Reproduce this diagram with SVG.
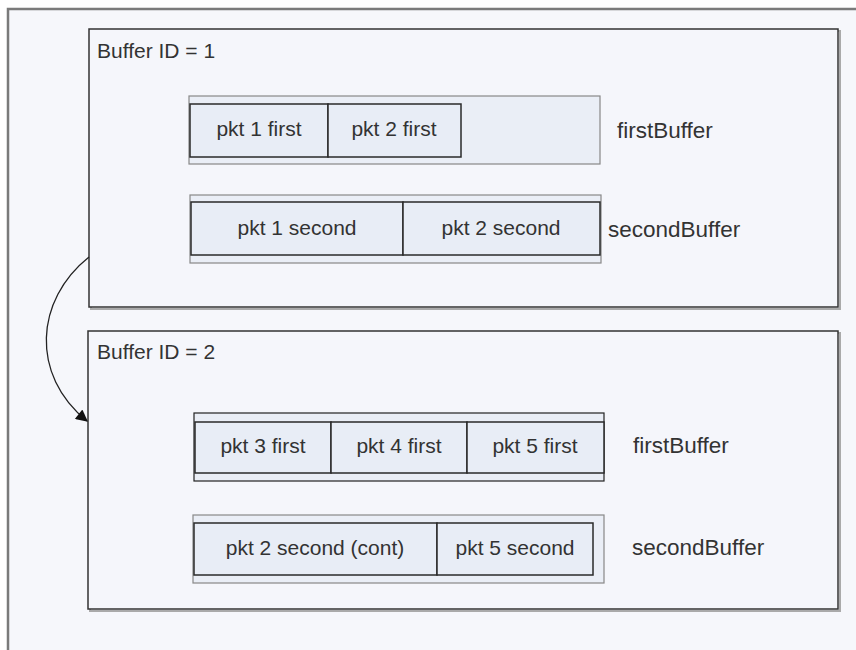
<svg xmlns="http://www.w3.org/2000/svg" width="856" height="650" viewBox="0 0 856 650">
  <defs>
    <marker id="arrow" viewBox="0 0 10 10" refX="9" refY="5" markerWidth="15" markerHeight="12" orient="auto" markerUnits="userSpaceOnUse">
      <path d="M0,0 L10,5 L0,10 z" fill="#111"/>
    </marker>
    <style>
      .frame { fill: #f6f7fb; stroke: #7a7a7a; stroke-width: 2.5; }
      .buf { fill: #f5f6fb; stroke: #333; stroke-width: 1.5; }
      .shadow { fill: none; stroke: #aaa; stroke-width: 2; }
      .track { fill: #eaeef6; stroke: #888; stroke-width: 1.2; }
      .trackDark { fill: #eaeef6; stroke: #222; stroke-width: 1.2; }
      .pkt { fill: #e8edf6; stroke: #2a2a2a; stroke-width: 1.5; }
      .lbl { font-family: "Liberation Sans", Arial, sans-serif; font-size: 21px; fill: #333; }
      .side { font-size: 22.5px; }
      .ctr { text-anchor: middle; }
      .conn { fill: none; stroke: #222; stroke-width: 1.3; }
    </style>
  </defs>

  <rect width="856" height="650" fill="#ffffff"/>
  <rect class="frame" x="8" y="9" width="860" height="660"/>

  <!-- Buffer 1 -->
  <g id="buffer1">
    <rect class="shadow" x="91" y="31" width="749" height="278"/>
    <rect class="buf" x="89" y="29" width="749" height="278"/>
    <text class="lbl" x="97" y="58">Buffer ID = 1</text>
  </g>
  <g id="buffer1-first">
    <rect class="track" x="189" y="96" width="411" height="68"/>
    <rect class="pkt" x="190" y="104" width="138" height="53"/>
    <rect class="pkt" x="328" y="104" width="133" height="53"/>
    <text class="lbl ctr" x="259" y="136">pkt 1 first</text>
    <text class="lbl ctr" x="394" y="136">pkt 2 first</text>
    <text class="lbl side" x="617" y="138">firstBuffer</text>
  </g>
  <g id="buffer1-second">
    <rect class="track" x="190" y="195" width="411" height="68"/>
    <rect class="pkt" x="191" y="202" width="212" height="53"/>
    <rect class="pkt" x="403" y="202" width="197" height="53"/>
    <text class="lbl ctr" x="297" y="235">pkt 1 second</text>
    <text class="lbl ctr" x="501" y="235">pkt 2 second</text>
    <text class="lbl side" x="608" y="237">secondBuffer</text>
  </g>

  <!-- Buffer 2 -->
  <g id="buffer2">
    <rect class="shadow" x="90" y="333" width="750" height="278"/>
    <rect class="buf" x="88" y="331" width="750" height="278"/>
    <text class="lbl" x="97" y="359">Buffer ID = 2</text>
  </g>
  <g id="buffer2-first">
    <rect class="trackDark" x="194" y="413" width="410" height="68"/>
    <rect class="pkt" x="195" y="422" width="136" height="51"/>
    <rect class="pkt" x="331" y="422" width="136" height="51"/>
    <rect class="pkt" x="467" y="422" width="137" height="51"/>
    <text class="lbl ctr" x="263" y="453">pkt 3 first</text>
    <text class="lbl ctr" x="399" y="453">pkt 4 first</text>
    <text class="lbl ctr" x="535" y="453">pkt 5 first</text>
    <text class="lbl side" x="633" y="453">firstBuffer</text>
  </g>
  <g id="buffer2-second">
    <rect class="track" x="193" y="515" width="411" height="68"/>
    <rect class="pkt" x="194" y="523" width="243" height="52"/>
    <rect class="pkt" x="437" y="523" width="156" height="52"/>
    <text class="lbl ctr" x="315" y="555">pkt 2 second (cont)</text>
    <text class="lbl ctr" x="515" y="555">pkt 5 second</text>
    <text class="lbl side" x="632" y="555">secondBuffer</text>
  </g>

  <!-- Connectors -->
  <g id="connectors">
    <path class="conn" d="M89,257 C35,300 30,375 87,421" marker-end="url(#arrow)"/>
  </g>
</svg>
